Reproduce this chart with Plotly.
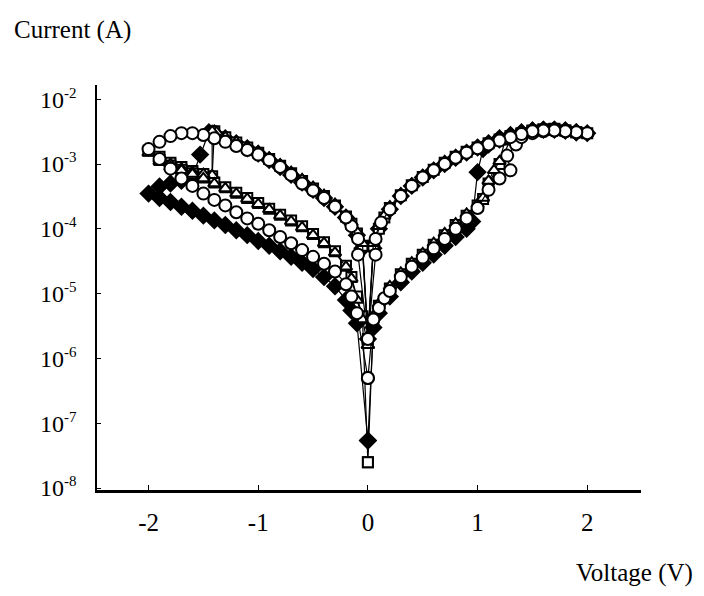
import plotly.graph_objects as go

# ---------------- data (voltage in V, current in A), sweep order ----------------
circ_V = [0.0, 0.05, 0.1, 0.15, 0.2, 0.3, 0.4, 0.5, 0.6, 0.7, 0.8, 0.9, 1.0, 1.1, 1.2, 1.3,
          1.27, 1.35, 1.4, 1.5, 1.6, 1.7, 1.8, 1.9, 2.0,
          1.9, 1.8, 1.7, 1.6, 1.5, 1.4, 1.3, 1.2, 1.1, 1.0, 0.9, 0.8, 0.7, 0.6, 0.5, 0.4, 0.3,
          0.2, 0.12, 0.07, 0.07, 0.0,
          -0.09, -0.09, -0.15, -0.2, -0.3, -0.4, -0.5, -0.6, -0.7, -0.8, -0.9, -1.0, -1.1, -1.2,
          -1.3, -1.4, -1.5, -1.6, -1.7, -1.8, -1.9, -2.0,
          -1.9, -1.8, -1.7, -1.6, -1.5, -1.4, -1.3, -1.2, -1.1, -1.0, -0.9, -0.8, -0.7, -0.6,
          -0.5, -0.4, -0.3, -0.2, -0.15, -0.1, 0.0]
circ_I = [5e-7, 4e-6, 6e-6, 8.5e-6, 1.1e-5, 1.8e-5, 2.6e-5, 3.6e-5, 5e-5, 7e-5, 1e-4, 1.45e-4, 2.1e-4, 4e-4, 6e-4, 8e-4,
          1.35e-3, 2.0e-3, 2.6e-3, 3.0e-3, 3.2e-3, 3.3e-3, 3.2e-3, 3.1e-3, 3.0e-3,
          3.1e-3, 3.2e-3, 3.3e-3, 3.3e-3, 3.2e-3, 2.9e-3, 2.6e-3, 2.3e-3, 2.0e-3, 1.75e-3, 1.5e-3, 1.25e-3, 1.0e-3, 8e-4, 6.2e-4, 4.6e-4, 3.2e-4,
          2e-4, 1.25e-4, 7e-5, 4e-5, 2e-6,
          4e-5, 7e-5, 1.1e-4, 1.5e-4, 2.2e-4, 3e-4, 3.9e-4, 5e-4, 6.8e-4, 9e-4, 1.15e-3, 1.4e-3, 1.65e-3, 1.9e-3,
          2.2e-3, 2.5e-3, 2.8e-3, 3.0e-3, 3.0e-3, 2.7e-3, 2.2e-3, 1.7e-3,
          1.2e-3, 8.5e-4, 6e-4, 4.6e-4, 3.5e-4, 2.8e-4, 2.3e-4, 1.8e-4, 1.45e-4, 1.2e-4, 9.5e-5, 7.5e-5, 6e-5, 4.7e-5,
          3.7e-5, 2.9e-5, 2.2e-5, 1.4e-5, 9e-6, 5e-6, 5e-7]

tri_V = [0.0, 0.05, 0.1, 0.2, 0.3, 0.4, 0.5, 0.6, 0.7, 0.8, 0.9, 1.0, 1.05, 1.1, 1.15, 1.2,
         1.25, 1.3, 1.4, 1.5, 1.6, 1.7, 1.8, 1.9, 2.0,
         1.9, 1.8, 1.7, 1.6, 1.5, 1.4, 1.3, 1.2, 1.1, 1.0, 0.9, 0.8, 0.7, 0.6, 0.5, 0.4, 0.3,
         0.2, 0.15, 0.1, 0.05, 0.0,
         -0.05, -0.1, -0.15, -0.2, -0.3, -0.4, -0.5, -0.6, -0.7, -0.8, -0.9, -1.0, -1.1, -1.2,
         -1.3, -1.38, -1.42, -1.42, -1.5, -1.6, -1.7, -1.8, -1.9, -2.0,
         -1.9, -1.8, -1.7, -1.6, -1.5, -1.4, -1.3, -1.2, -1.1, -1.0, -0.9, -0.8, -0.7, -0.6,
         -0.5, -0.4, -0.3, -0.2, -0.15, -0.1, -0.05, 0.0]
tri_I = [1.6e-6, 4.5e-6, 7e-6, 1.3e-5, 2.1e-5, 3e-5, 4.2e-5, 6e-5, 8.5e-5, 1.2e-4, 1.7e-4, 2.4e-4, 3e-4, 5.5e-4, 8e-4, 1.1e-3,
         2.3e-3, 2.7e-3, 3.0e-3, 3.3e-3, 3.5e-3, 3.5e-3, 3.4e-3, 3.2e-3, 3.0e-3,
         3.2e-3, 3.4e-3, 3.5e-3, 3.5e-3, 3.4e-3, 3.1e-3, 2.8e-3, 2.5e-3, 2.2e-3, 1.9e-3, 1.6e-3, 1.35e-3, 1.1e-3, 8.5e-4, 6.6e-4, 4.9e-4, 3.5e-4,
         2.2e-4, 1.6e-4, 1.1e-4, 6e-5, 2.2e-6,
         6e-5, 9e-5, 1.25e-4, 1.6e-4, 2.4e-4, 3.3e-4, 4.4e-4, 5.8e-4, 7.5e-4, 9.8e-4, 1.25e-3, 1.55e-3, 1.85e-3, 2.2e-3,
         2.6e-3, 3.1e-3, 3.2e-3, 6.7e-4, 7e-4, 7.5e-4, 8.5e-4, 1e-3, 1.2e-3, 1.5e-3,
         1.1e-3, 9e-4, 8e-4, 7e-4, 6e-4, 5e-4, 4.2e-4, 3.5e-4, 2.9e-4, 2.4e-4, 2e-4, 1.6e-4, 1.3e-4, 1.05e-4,
         8e-5, 6e-5, 4.3e-5, 2.6e-5, 1.7e-5, 8e-6, 4e-6, 1.6e-6]

sq_V = [0.0, 0.05, 0.1, 0.2, 0.3, 0.4, 0.5, 0.6, 0.7, 0.8, 0.9, 1.0, 1.05, 1.1, 1.2,
        1.3, 1.4, 1.5, 1.6, 1.7, 1.8, 1.9, 2.0,
        1.9, 1.8, 1.7, 1.6, 1.5, 1.4, 1.3, 1.2, 1.1, 1.0, 0.9, 0.8, 0.7, 0.6, 0.5, 0.4, 0.3,
        0.2, 0.15, 0.1, 0.05, 0.0,
        -0.05, -0.1, -0.15, -0.2, -0.3, -0.4, -0.5, -0.6, -0.7, -0.8, -0.9, -1.0, -1.1, -1.2,
        -1.3, -1.4, -1.42, -1.5, -1.6, -1.7, -1.8, -1.9, -2.0,
        -1.9, -1.8, -1.7, -1.6, -1.5, -1.4, -1.3, -1.2, -1.1, -1.0, -0.9, -0.8, -0.7, -0.6,
        -0.5, -0.4, -0.3, -0.2, -0.15, -0.1, -0.05, 0.0]
sq_I = [2.5e-8, 4e-6, 6.5e-6, 1.2e-5, 2e-5, 2.9e-5, 4e-5, 5.7e-5, 8e-5, 1.15e-4, 1.6e-4, 2.3e-4, 2.9e-4, 5e-4, 1e-3,
        2.4e-3, 2.9e-3, 3.2e-3, 3.4e-3, 3.5e-3, 3.3e-3, 3.1e-3, 3.0e-3,
        3.1e-3, 3.3e-3, 3.4e-3, 3.4e-3, 3.3e-3, 3.0e-3, 2.7e-3, 2.4e-3, 2.1e-3, 1.8e-3, 1.55e-3, 1.3e-3, 1.05e-3, 8.2e-4, 6.3e-4, 4.7e-4, 3.3e-4,
        2.1e-4, 1.5e-4, 1e-4, 5.5e-5, 2e-6,
        5.5e-5, 8.5e-5, 1.2e-4, 1.55e-4, 2.3e-4, 3.2e-4, 4.2e-4, 5.5e-4, 7.2e-4, 9.4e-4, 1.2e-3, 1.5e-3, 1.8e-3, 2.15e-3,
        2.6e-3, 3.2e-3, 6.5e-4, 7e-4, 7.8e-4, 9e-4, 1.05e-3, 1.3e-3, 1.6e-3,
        1.15e-3, 9.5e-4, 8.2e-4, 7.2e-4, 6.2e-4, 5.2e-4, 4.4e-4, 3.6e-4, 3e-4, 2.5e-4, 2.05e-4, 1.65e-4, 1.35e-4, 1.1e-4,
        8.3e-5, 6.2e-5, 4.5e-5, 2.7e-5, 1.8e-5, 9e-6, 4.5e-6, 2.5e-8]

dia_V = [0.0, 0.05, 0.1, 0.2, 0.3, 0.4, 0.5, 0.6, 0.7, 0.8, 0.9, 0.95, 1.0,
         1.05, 1.1, 1.2, 1.3, 1.4, 1.5, 1.6, 1.7, 1.8, 1.9, 2.0,
         1.9, 1.8, 1.7, 1.6, 1.5, 1.4, 1.3, 1.2, 1.1, 1.0, 0.9, 0.8, 0.7, 0.6, 0.5, 0.4, 0.3,
         0.2, 0.1, 0.05, 0.0,
         -0.05, -0.1, -0.2, -0.3, -0.4, -0.5, -0.6, -0.7, -0.8, -0.9, -1.0, -1.1, -1.2,
         -1.3, -1.4, -1.45, -1.53, -1.6, -1.7, -1.8, -1.9, -2.0,
         -1.9, -1.8, -1.7, -1.6, -1.5, -1.4, -1.3, -1.2, -1.1, -1.0, -0.9, -0.8, -0.7, -0.6,
         -0.5, -0.4, -0.3, -0.2, -0.15, -0.1, 0.0]
dia_I = [5.4e-8, 3e-6, 5e-6, 9e-6, 1.5e-5, 2.2e-5, 3e-5, 4e-5, 5.5e-5, 7.5e-5, 1e-4, 1.3e-4, 7.5e-4,
         1.7e-3, 2.0e-3, 2.5e-3, 2.8e-3, 3.1e-3, 3.3e-3, 3.4e-3, 3.4e-3, 3.3e-3, 3.1e-3, 3.0e-3,
         3.1e-3, 3.3e-3, 3.4e-3, 3.4e-3, 3.3e-3, 3.0e-3, 2.7e-3, 2.4e-3, 2.1e-3, 1.8e-3, 1.5e-3, 1.25e-3, 1.0e-3, 8e-4, 6.2e-4, 4.6e-4, 3.2e-4,
         2e-4, 1e-4, 5e-5, 2e-6,
         5e-5, 8e-5, 1.5e-4, 2.2e-4, 3e-4, 4e-4, 5.2e-4, 6.8e-4, 9e-4, 1.15e-3, 1.45e-3, 1.75e-3, 2.1e-3,
         2.5e-3, 3.0e-3, 3.1e-3, 1.4e-3, 6.5e-4, 5.5e-4, 5e-4, 4.5e-4, 3.5e-4,
         3e-4, 2.6e-4, 2.2e-4, 1.9e-4, 1.6e-4, 1.35e-4, 1.15e-4, 9.5e-5, 8e-5, 6.5e-5, 5.5e-5, 4.5e-5, 3.7e-5, 3e-5,
         2.4e-5, 1.8e-5, 1.3e-5, 8e-6, 5.5e-6, 3.5e-6, 5.4e-8]

y_tickvals = [1e-8, 1e-7, 1e-6, 1e-5, 1e-4, 1e-3, 1e-2]
y_exponents = ["-8", "-7", "-6", "-5", "-4", "-3", "-2"]
x_tickvals = [-2, -1, 0, 1, 2]
x_ticktext = ["-2", "-1", "0", "1", "2"]

FONT = "Liberation Serif, Times New Roman, serif"
y_ticktext = ["10<sup><span style='font-size:15px'>%s</span></sup>" % e for e in y_exponents]

fig = go.Figure()

def add(vx, iy, symbol, fill, size):
    fig.add_trace(go.Scatter(
        x=vx, y=iy, mode="lines+markers",
        line=dict(color="black", width=1.2),
        marker=dict(symbol=symbol, size=size, color=fill,
                    line=dict(color="black", width=2)),
        showlegend=False, hoverinfo="skip"))

add(dia_V, dia_I, "diamond", "black", 12)
add(sq_V, sq_I, "square", "white", 10)
add(tri_V, tri_I, "triangle-up", "white", 11)
add(circ_V, circ_I, "circle", "white", 12)

fig.update_layout(
    width=704, height=596,
    margin=dict(l=89, r=71, t=77, b=114),
    paper_bgcolor="white", plot_bgcolor="white",
    font=dict(family=FONT, size=24, color="black"),
    xaxis=dict(range=[-2.47, 2.49], tickvals=x_tickvals, ticktext=x_ticktext,
               showgrid=False, zeroline=False, showline=True, linecolor="black",
               linewidth=2.5, ticks="inside", ticklen=5, tickcolor="black",
               ticklabelstandoff=8, tickfont=dict(family=FONT, size=25)),
    yaxis=dict(type="log", range=[-8.03, -1.78], tickvals=y_tickvals, ticktext=y_ticktext,
               showgrid=False, zeroline=False, showline=True, linecolor="black",
               linewidth=1.5, ticks="inside", ticklen=4, tickcolor="black",
               ticklabelstandoff=14, tickfont=dict(family=FONT, size=24)),
    annotations=[
        dict(text="Current (A)", xref="paper", yref="paper", x=-0.156, y=1.136,
             xanchor="left", yanchor="middle", showarrow=False,
             font=dict(family=FONT, size=25)),
        dict(text="Voltage (V)", xref="paper", yref="paper", x=0.877, y=-0.205,
             xanchor="left", yanchor="middle", showarrow=False,
             font=dict(family=FONT, size=25)),
    ],
)

fig.write_html("out.html")
